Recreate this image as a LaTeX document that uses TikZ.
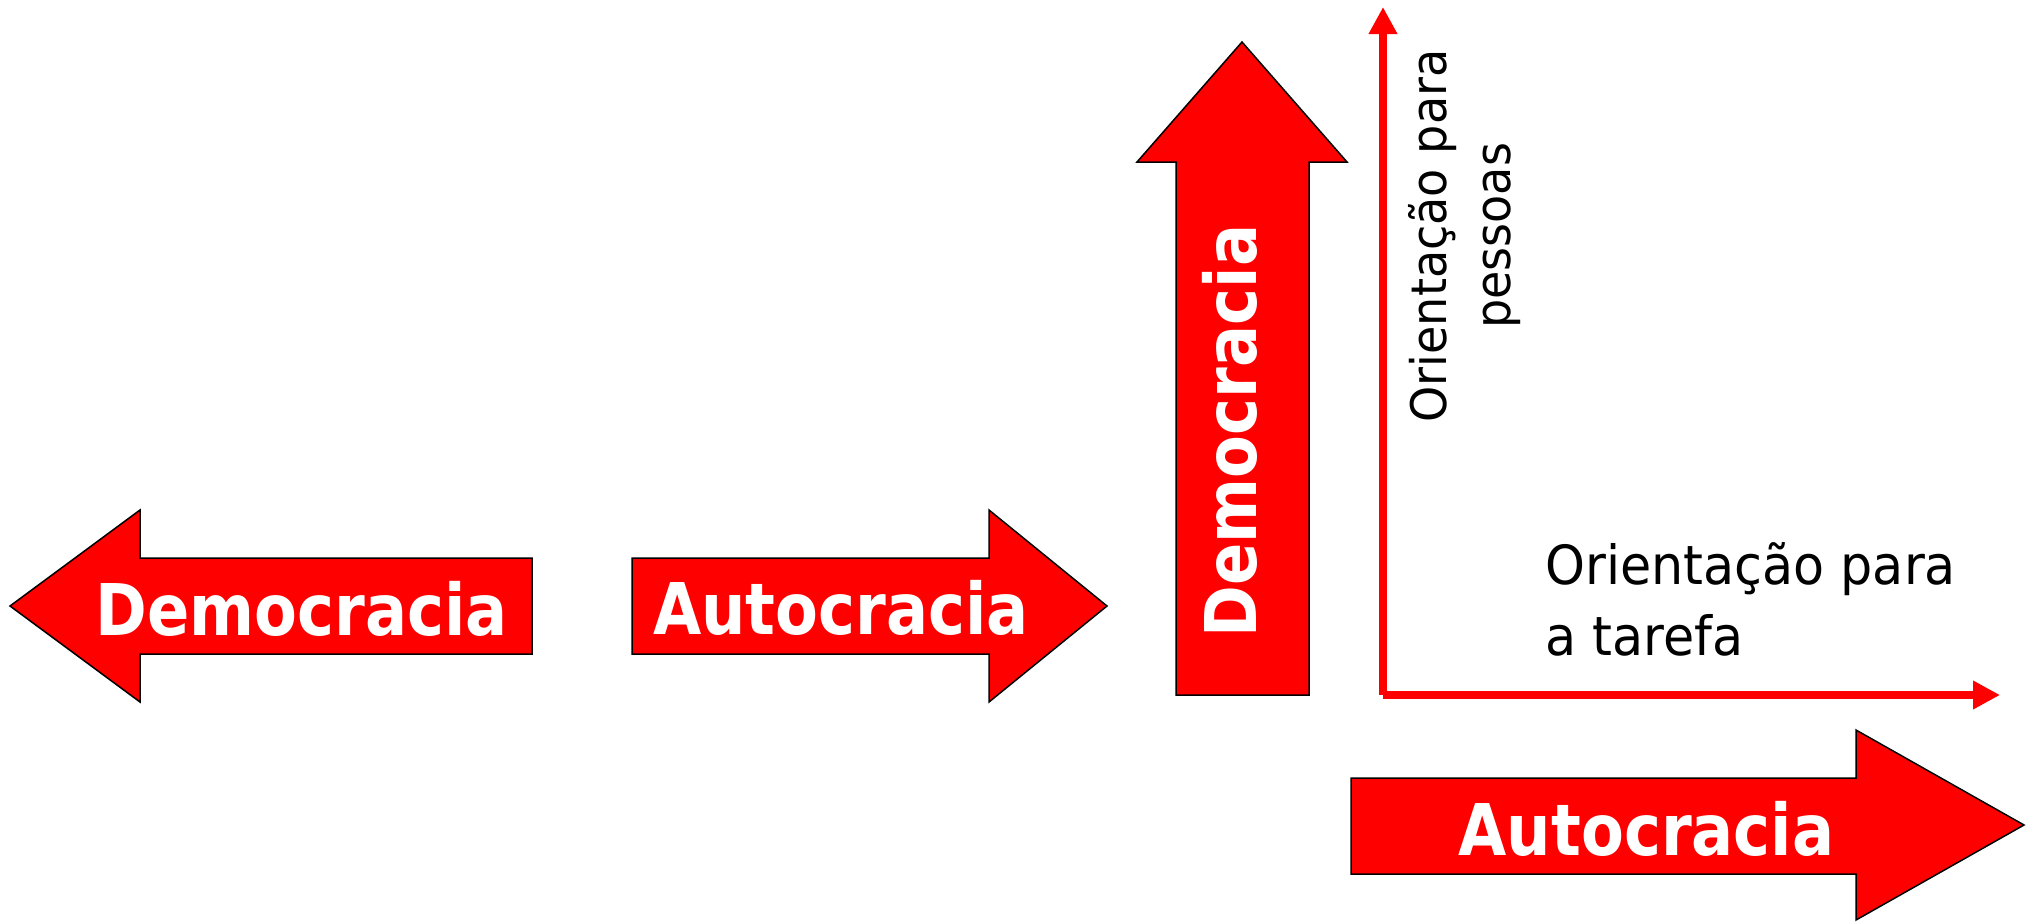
\documentclass[tikz,border=0pt]{standalone}
\usepackage{fontspec}
\usetikzlibrary{arrows.meta}
\newfontfamily\arrowfont{DejaVu Sans Bold}[FakeStretch=0.875]
\newfontfamily\labelfont{DejaVu Sans}[FakeStretch=0.94]
\definecolor{arrowred}{RGB}{255,0,0}
\tikzset{
  bigarrow/.style={fill=arrowred, draw=black, line width=1.5pt, line join=miter},
  arrowtext/.style={text=white, font=\arrowfont\fontsize{71.3}{85}\selectfont, inner sep=0pt, anchor=base},
  axisline/.style={draw=arrowred, line width=8pt, line cap=butt, -{Triangle[length=27pt,width=27pt]}},
  xlabelstyle/.style={font=\labelfont\fontsize{54}{71}\selectfont, inner sep=0pt, align=left},
  ylabelstyle/.style={font=\labelfont\fontsize{49}{64}\selectfont, inner sep=0pt, align=center},
}
\begin{document}
\begin{tikzpicture}[x=1pt,y=-1pt]
\useasboundingbox (0,0) rectangle (2029,921);
% left arrow
\draw[bigarrow] (10,606) -- (140,510) -- (140,558) -- (532,558) -- (532,654) -- (140,654) -- (140,702) -- cycle;
\node[arrowtext] (demleft) at (301.5,635) {Democracia};
% middle arrow
\draw[bigarrow] (632,558) -- (989,558) -- (989,510) -- (1107,606) -- (989,702) -- (989,654) -- (632,654) -- cycle;
\node[arrowtext] (automid) at (841,634) {Autocracia};
% vertical arrow
\draw[bigarrow] (1176,695) -- (1176,162) -- (1137,162) -- (1242,42) -- (1347,162) -- (1309,162) -- (1309,695) -- cycle;
\node[arrowtext, rotate=90] (demup) at (1256,431) {Democracia};
% bottom arrow
\draw[bigarrow] (1351,778) -- (1856,778) -- (1856,730) -- (2024,825) -- (1856,920) -- (1856,874) -- (1351,874) -- cycle;
\node[arrowtext] (autobot) at (1646.5,855) {Autocracia};
% axes
\coordinate (origin) at (1383,695);
\coordinate (ytip) at (1383,7);
\coordinate (xtip) at (2000,695);
\draw[axisline] (origin) -- (ytip);
\draw[axisline] (origin) -- (xtip);
% axis labels
\node[xlabelstyle, anchor=base west] (xlab) at (1545,655) {Orientação para\\a tarefa};
\node[ylabelstyle, rotate=90] (ylab) at (1465,236) {Orientação para\\pessoas};
\end{tikzpicture}
\end{document}
